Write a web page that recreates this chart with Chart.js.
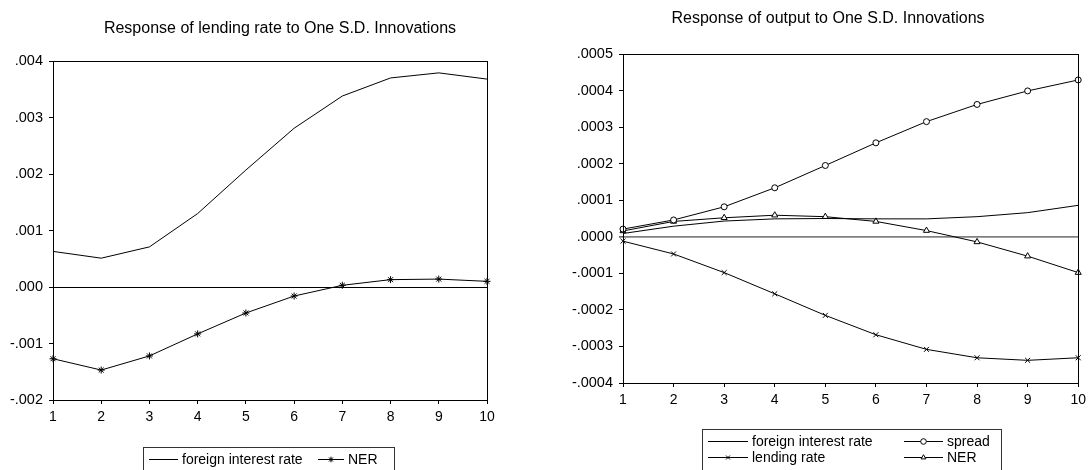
<!DOCTYPE html>
<html><head><meta charset="utf-8">
<script src="https://cdn.jsdelivr.net/npm/chart.js@4.4.1/dist/chart.umd.min.js"></script>
<style>
html,body{margin:0;padding:0;background:#fff;overflow:hidden;width:1091px;height:470px}
#c1{position:absolute;left:0;top:0}
#c2{position:absolute;left:545px;top:0}
</style></head><body>
<canvas id="c1" width="545" height="470"></canvas>
<canvas id="c2" width="546" height="470"></canvas>
<script>
// ---- data ----
const periods = ['1','2','3','4','5','6','7','8','9','10'];

// Response of lending rate
const lendForeign = [0.00063, 0.00051, 0.00071, 0.00130, 0.00207, 0.00281, 0.00338, 0.00370, 0.00379, 0.00368];
const lendNER     = [-0.00127, -0.00147, -0.00122, -0.00083, -0.00046, -0.00016, 0.00003, 0.00013, 0.00014, 0.00010];

// Response of output
const outForeign = [0.000009, 0.000029, 0.000043, 0.000049, 0.000050, 0.000049, 0.000049, 0.000055, 0.000066, 0.000086];
const outSpread  = [0.000021, 0.000046, 0.000082, 0.000134, 0.000195, 0.000257, 0.000315, 0.000362, 0.000399, 0.000429];
const outLending = [-0.000012, -0.000047, -0.000098, -0.000156, -0.000215, -0.000268, -0.000308, -0.000331, -0.000338, -0.000331];
const outNER     = [0.000016, 0.000042, 0.000052, 0.000059, 0.000055, 0.000042, 0.000017, -0.000014, -0.000053, -0.000098];

const lendTitle = 'Response of lending rate to One S.D. Innovations';
const outTitle  = 'Response of output to One S.D. Innovations';

const FONT = 'Arial, "Liberation Sans", sans-serif';

function fmt(v, d) {
  if (Math.abs(v) < 1e-12) v = 0;
  return v.toFixed(d).replace(/^(-?)0\./, '$1.');
}

const deco = {
  id: 'deco',
  afterDraw(chart, args, o) {
    const ctx = chart.ctx, a = chart.chartArea;
    ctx.save();
    ctx.strokeStyle = '#000'; ctx.lineWidth = 1;
    const l = Math.round(a.left) + 0.5, t = Math.round(a.top) + 0.5;
    ctx.strokeRect(l, t, Math.round(a.right) - Math.round(a.left), Math.round(a.bottom) - Math.round(a.top));
    // title
    ctx.fillStyle = '#000';
    ctx.font = o.titleFont;
    ctx.textAlign = 'center'; ctx.textBaseline = 'middle';
    ctx.fillText(o.title, o.titleX, o.titleY);
    // legend box
    const b = o.box;
    ctx.strokeStyle = '#333';
    ctx.strokeRect(b[0] + 0.5, b[1] + 0.5, b[2], b[3]);
    ctx.font = o.legendFont;
    ctx.textAlign = 'left';
    for (const it of o.items) {
      const ds = chart.data.datasets[it.ds];
      ctx.strokeStyle = '#000'; ctx.lineWidth = 1;
      ctx.beginPath();
      ctx.moveTo(it.x, it.y + 0.5); ctx.lineTo(it.x + it.len, it.y + 0.5); ctx.stroke();
      if (ds.pointRadius > 0) {
        ctx.fillStyle = ds.pointBackgroundColor || '#fff';
        ctx.strokeStyle = '#000';
        Chart.helpers.drawPoint(ctx, {pointStyle: ds.pointStyle, radius: 2.8, borderWidth: 1, rotation: 0}, it.x + it.len / 2, it.y + 0.5);
      }
      ctx.fillStyle = '#000';
      ctx.fillText(ds.label, it.x + it.len + 4, it.y + 1);
    }
    ctx.restore();
  }
};

function line(label, data, style, r, fill) {
  return {
    label, data,
    borderColor: '#000', borderWidth: 1, tension: 0,
    pointStyle: style || 'circle', pointRadius: r || 0, pointHoverRadius: r || 0,
    pointBorderColor: '#000', pointBackgroundColor: fill || '#000', pointBorderWidth: 1
  };
}

function scales(min, max, step, dec, yWidth, zeroColor, zeroWidth) {
  return {
    x: {
      type: 'category', offset: false,
      grid: {display: true, drawOnChartArea: false, drawTicks: true, tickLength: 4, tickColor: '#000', tickWidth: 1},
      border: {display: false},
      ticks: {color: '#000', font: {family: FONT, size: 14}, padding: 5, maxRotation: 0, autoSkip: false},
      afterFit: s => { s.height = 30; }
    },
    y: {
      type: 'linear', min, max,
      grid: {
        display: true, drawOnChartArea: true, drawTicks: true, tickLength: 4, tickColor: '#000', tickWidth: 1,
        color: c => (c.tick && Math.abs(c.tick.value) < step / 100) ? zeroColor : 'rgba(0,0,0,0)',
        lineWidth: c => (c.tick && Math.abs(c.tick.value) < step / 100) ? zeroWidth : 1
      },
      border: {display: false},
      ticks: {stepSize: step, color: '#000', font: {family: FONT, size: 14.5}, padding: 6,
              callback: v => fmt(v, dec)},
      afterFit: s => { s.width = yWidth; }
    }
  };
}

new Chart(document.getElementById('c1'), {
  type: 'line',
  data: {
    labels: periods,
    datasets: [
      line('foreign interest rate', lendForeign),
      line('NER', lendNER, 'star', 3.5, '#000')
    ]
  },
  plugins: [deco],
  options: {
    responsive: false, animation: false, devicePixelRatio: 1,
    layout: {padding: {left: 0, top: 61, right: 58, bottom: 40}},
    scales: scales(-0.002, 0.004, 0.001, 3, 53, '#000', 1),
    plugins: {
      legend: {display: false}, tooltip: {enabled: false},
      deco: {
        title: lendTitle, titleX: 280, titleY: 29, titleFont: '16px ' + FONT,
        legendFont: '14px ' + FONT,
        box: [143, 447, 251, 30],
        items: [{ds: 0, x: 149, y: 459, len: 29}, {ds: 1, x: 318, y: 459, len: 26}]
      }
    }
  }
});

new Chart(document.getElementById('c2'), {
  type: 'line',
  data: {
    labels: periods,
    datasets: [
      line('foreign interest rate', outForeign),
      line('spread', outSpread, 'circle', 3, '#fff'),
      line('lending rate', outLending, 'crossRot', 3.5, '#000'),
      line('NER', outNER, 'triangle', 3.5, '#fff')
    ]
  },
  plugins: [deco],
  options: {
    responsive: false, animation: false, devicePixelRatio: 1,
    layout: {padding: {left: 0, top: 54, right: 11, bottom: 57}},
    scales: scales(-0.0004, 0.0005, 0.0001, 4, 78, '#808080', 1.8),
    plugins: {
      legend: {display: false}, tooltip: {enabled: false},
      deco: {
        title: outTitle, titleX: 283, titleY: 19, titleFont: '16px ' + FONT,
        legendFont: '14px ' + FONT,
        box: [157, 429, 299, 50],
        items: [
          {ds: 0, x: 163, y: 441, len: 40},
          {ds: 1, x: 359, y: 441, len: 39},
          {ds: 2, x: 163, y: 457, len: 40},
          {ds: 3, x: 359, y: 457, len: 39}
        ]
      }
    }
  }
});
</script>
</body></html>
